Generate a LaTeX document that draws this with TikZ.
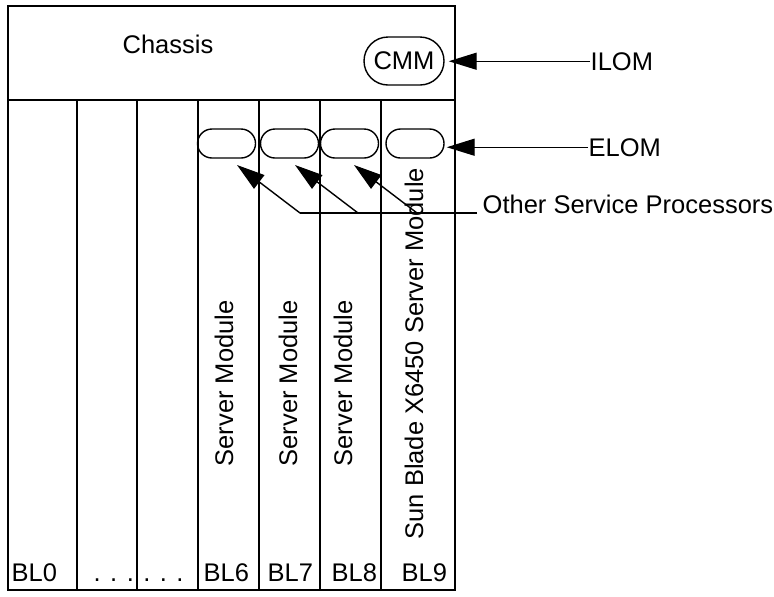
\documentclass[tikz,border=0pt]{standalone}
\usepackage{fontspec}
\setmainfont{Liberation Sans}
\usetikzlibrary{shapes.misc,arrows.meta,calc}

\begin{document}
\begin{tikzpicture}[x=0.5pt, y=-0.5pt,
    font=\fontsize{12.75}{15}\selectfont,
    line width=0.7pt,
    spnode/.style={rounded rectangle, draw, minimum width=29pt, minimum height=14.5pt, inner sep=0pt},
    lbl/.style={inner sep=0pt, anchor=base west},
    vlbl/.style={inner sep=0pt, anchor=base west, rotate=90},
    arrow/.style={-{Triangle[length=14pt,width=8.5pt]}}
]
    \useasboundingbox (0,0) rectangle (774,596);
    \draw (8,6) rectangle (455,590);
    \draw (8,100) -- (455,100);
    \draw (77,100) -- (77,590) (137,100) -- (137,590) (198,100) -- (198,590)
          (259,100) -- (259,590) (320,100) -- (320,590) (381,100) -- (381,590);

    \node[anchor=base] (chassis) at (168,53) {Chassis};
    \node[spnode, minimum width=40pt, minimum height=24pt] (cmm) at (404,61) {CMM};
    \node[spnode] (sp1) at (226.5,143.5) {}; \node[spnode] (sp2) at (289.5,143.5) {};
    \node[spnode] (sp3) at (349.5,143.5) {}; \node[spnode] (sp4) at (415,143.5) {};

    \node[lbl] (ilom) at (590,70) {ILOM};
    \node[lbl] (elom) at (588,156) {ELOM};
    \node[lbl] (osp) at (482,213) {Other Service Processors};

    \draw[arrow, shorten >=2pt] (ilom.west) -- (ilom.west -| cmm.east);
    \draw[arrow, shorten >=1pt] (elom.west) -- (elom.west -| sp4.east);

    \coordinate (j1) at (300,213); \coordinate (j2) at (358,213); \coordinate (j3) at (417,213);
    \coordinate (t1) at (237,165); \coordinate (t2) at (295,165); \coordinate (t3) at (354,165);
    \draw[shorten <=2.5pt] (osp.base west) -- (j1);
    \draw[arrow] (j1) -- (t1);
    \draw[arrow] (j2) -- (t2);
    \draw[arrow] (j3) -- (t3);

    \node[vlbl] (sm6) at (233,467) {Server Module};
    \node[vlbl] (sm7) at (297,467) {Server Module};
    \node[vlbl] (sm8) at (352,467) {Server Module};
    \node[vlbl] (sm9) at (423,540) {Sun Blade X6450 Server Module};

    \node[lbl] (bl0) at (11,581) {BL0};
    \node[lbl] (dots) at (93,581) {. . . . . .};
    \node[lbl] (bl6) at (203,581) {BL6};
    \node[lbl] (bl7) at (267,581) {BL7};
    \node[lbl] (bl8) at (331,581) {BL8};
    \node[lbl] (bl9) at (401,581) {BL9};
\end{tikzpicture}
\end{document}
